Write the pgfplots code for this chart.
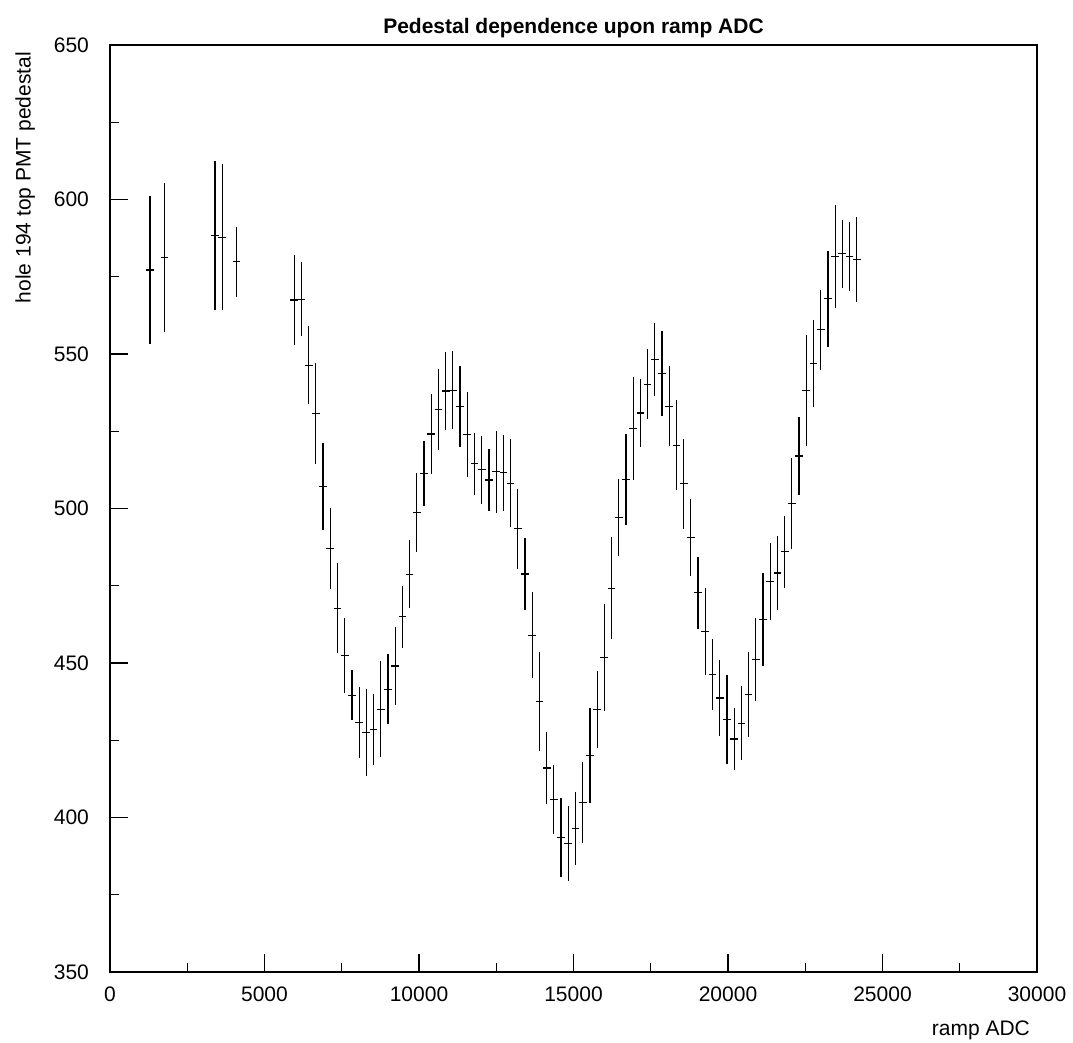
\documentclass[border=0pt]{standalone}
\usepackage{pgfplots}
\pgfplotsset{compat=1.18}
\usepackage{pgfplotstable}
\usepackage{fontspec}
\setmainfont{Liberation Sans}
\pgfplotstableread{
x ex y ey
1294 125 577.2 24
1761 125 581.2 24
3395 125 588.3 24
3628 125 587.8 23.6
4095 125 579.9 11.3
5962 125 567.5 14.6
6195 125 567.7 12
6429 125 546.4 12.7
6662 125 530.8 16.3
6896 125 507.1 14
7129 125 487.1 13
7362 125 467.7 14.6
7596 125 452.4 12
7829 125 439.6 8.2
8063 125 430.8 11.5
8296 125 427.5 14
8529 125 428.6 11.5
8763 125 435.0 15.5
8996 125 441.5 11.3
9230 125 449.0 12.6
9463 125 465.0 10
9696 125 478.7 11
9930 125 498.7 12.7
10163 125 511.4 10.6
10397 125 524.1 12.8
10630 125 532.1 13.2
10863 125 538.0 12.7
11097 125 538.3 12.6
11330 125 533.0 13
11564 125 524.0 13.8
11797 125 514.5 10
12030 125 512.5 10.9
12264 125 509.2 9.9
12497 125 511.9 13.3
12731 125 511.6 12.3
12964 125 508.2 14.2
13197 125 493.4 13
13431 125 478.8 11.7
13664 125 459.0 14
13898 125 437.5 16
14131 125 416.0 11.7
14364 125 405.7 11.2
14598 125 393.5 12.7
14831 125 391.6 12
15065 125 396.4 11.7
15298 125 404.9 13.2
15531 125 420.1 15.3
15765 125 434.9 12.4
15998 125 451.7 17.3
16232 125 474.2 16.5
16465 125 497.0 12.4
16698 125 509.3 14.7
16932 125 525.8 16.7
17165 125 530.9 11
17399 125 540.2 11.3
17632 125 548.3 11.8
17865 125 543.6 13.8
18099 125 533.1 13
18332 125 520.5 14.5
18566 125 508.0 14.5
18799 125 490.6 12.5
19032 125 472.7 11.7
19266 125 460.2 14.1
19499 125 446.3 11.5
19733 125 438.7 12.4
19966 125 431.7 14.4
20199 125 425.4 10
20433 125 430.5 12
20666 125 439.9 13.7
20900 125 451.1 13.5
21133 125 464.1 15
21366 125 476.4 12.4
21600 125 479.1 12
21833 125 486.0 11.7
22067 125 501.6 14.7
22300 125 517.0 12.5
22533 125 538.2 18
22767 125 547.0 14.1
23000 125 557.8 13
23234 125 567.9 15.5
23467 125 581.5 16.7
23700 125 582.4 11.1
23934 125 581.5 11.2
24167 125 580.5 13.7
}\datatable
\begin{document}
\begin{tikzpicture}
\begin{axis}[
  scale only axis,
  width=463.5pt, height=463.5pt,
  xmin=0, xmax=30000, ymin=350, ymax=650,
  xtick={0,5000,...,30000},
  ytick={350,400,...,650},
  minor tick num=1,
  xtick pos=left, ytick pos=left,
  tick align=inside,
  major tick length=9pt,
  minor tick length=4.5pt,
  scaled x ticks=false,
  /pgf/number format/assume math mode=true,
  xticklabel style={/pgf/number format/1000 sep={}, font=\fontsize{10.5}{12}\selectfont, yshift=-4pt},
  yticklabel style={font=\fontsize{10.5}{12}\selectfont, xshift=-7pt},
  axis line style={line width=0.6pt},
  every tick/.style={black, line width=0.6pt},
  title={\textbf{Pedestal dependence upon ramp ADC}},
  title style={font=\fontsize{10.5}{12}\selectfont, yshift=-6pt},
  xlabel={ramp ADC},
  ylabel={hole 194 top PMT pedestal},
  label style={font=\fontsize{10.5}{12}\selectfont},
  xlabel style={at={(rel axis cs:1,0)}, anchor=north east, yshift=-21pt},
  ylabel style={at={(rel axis cs:0,1)}, anchor=south east, rotate=0, yshift=34pt},
]
\addplot[draw=none, mark=none,
  error bars/.cd, x dir=both, x explicit, y dir=both, y explicit,
  error mark=none, error bar style={draw=black, solid, line width=0.6pt}]
  table[x=x, y=y, x error=ex, y error=ey] {\datatable};
\coordinate (sw) at (rel axis cs:0,0);
\coordinate (ne) at (rel axis cs:1,1);
\end{axis}
\pgfresetboundingbox
\path ([xshift=-55pt, yshift=-35.5pt]sw) rectangle ([xshift=18pt, yshift=22.5pt]ne);
\end{tikzpicture}
\end{document}
